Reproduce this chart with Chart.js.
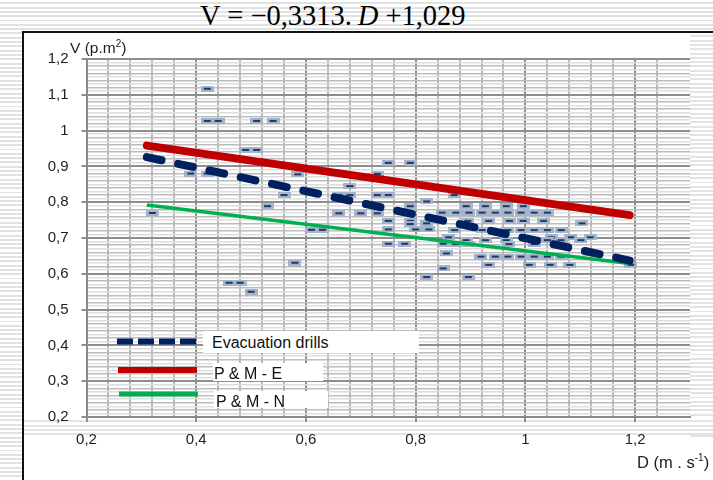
<!DOCTYPE html>
<html><head><meta charset="utf-8">
<script src="https://cdn.jsdelivr.net/npm/chart.js@4.4.0/dist/chart.umd.min.js"></script>
<style>
html,body{margin:0;padding:0;}
body{width:713px;height:480px;position:relative;overflow:hidden;
 background:repeating-linear-gradient(to bottom,#ffffff 0px,#ffffff 2.3px,#e1e1e1 2.3px,#e1e1e1 4.3px);
 font-family:"Liberation Sans",Arial,sans-serif;}
.stripe{position:absolute;background:repeating-linear-gradient(to bottom,#ffffff 0px,#ffffff 2.3px,#e3e3e3 2.3px,#e3e3e3 4.3px);}
#box{position:absolute;left:22px;top:31px;width:700px;height:460px;border-left:2px solid #111;border-top:2px solid #111;background:#fff;}
#title{position:absolute;left:200px;top:0px;font-family:"Liberation Serif","Times New Roman",serif;font-size:28.5px;color:#000;white-space:nowrap;}
canvas{position:absolute;left:0;top:0;}
.lbl{position:absolute;white-space:nowrap;color:#222;}
.lg{position:absolute;background:#fff;color:#111;font-size:16px;white-space:nowrap;line-height:18px;}
</style></head>
<body>
<div id="title">V = &minus;0,3313.&thinsp;<i>D</i> +1,029</div>
<div id="box"></div>
<div class="stripe" style="left:690px;top:33px;width:23px;height:404px;"></div>
<div class="stripe" style="left:24px;top:418px;width:689px;height:17px;"></div>
<div style="position:absolute;left:0;top:0;width:713px;height:480px;"><canvas id="c" width="713" height="480"></canvas></div>
<div class="lbl" style="left:70px;top:38px;font-size:15.5px;">V (p.m<sup style="font-size:10px;">2</sup>)</div>
<div class="lbl" style="left:637px;top:452px;font-size:16.5px;">D (m . s<sup style="font-size:10px;">-1</sup>)</div>
<div class="lg" style="left:203px;top:331px;width:207px;height:22px;padding-left:9px;line-height:23px;">Evacuation drills</div>
<div class="lg" style="left:213px;top:363px;width:109px;height:18px;padding-left:1px;line-height:21px;">P &amp; M - E</div>
<div class="lg" style="left:214px;top:391px;width:112px;height:17px;padding-left:2px;line-height:22px;">P &amp; M - N</div>
<script>
// ---- data ----
const drillD = [0.32,0.39,0.42,0.42,0.42,0.44,0.49,0.51,0.51,0.54,0.53,0.56,0.585,0.61,0.63,0.58,0.46,0.48,0.50,
 0.75,0.79,0.73,0.68,0.66,0.68,0.73,0.75,0.66,0.70,0.73,0.79,0.82,0.75,0.79,0.75,0.79,0.80,0.824,0.82,0.75,0.78,0.85,0.856,0.85,0.82,0.896,0.86,0.87,
 0.848,0.873,0.897,0.921,0.945,0.968,0.992,1.016,1.04,
 0.892,0.927,0.965,0.996,
 0.895,0.933,0.971,0.996,1.033,1.103,
 0.871,0.921,0.968,0.992,1.016,1.04,1.065,
 1.047,1.083,1.118,
 0.892,0.927,0.965,1.04,1.065,1.101,
 0.873,0.896,0.970,1.016,
 0.919,0.945,0.968,0.992,1.016,1.04,1.065,
 0.933,1.007,1.045,1.081,1.192];
const drillV = [0.770,0.880,0.880,1.117,1.027,1.027,0.946,0.946,1.027,1.027,0.789,0.820,0.878,0.723,0.723,0.631,0.575,0.575,0.550,
 0.910,0.910,0.879,0.845,0.820,0.820,0.820,0.820,0.769,0.769,0.769,0.789,0.802,0.748,0.748,0.724,0.739,0.724,0.724,0.741,0.684,0.684,0.684,0.657,0.615,0.591,0.591,0.702,0.820,
 0.771,0.771,0.771,0.771,0.771,0.771,0.771,0.771,0.771,
 0.789,0.789,0.789,0.789,
 0.748,0.748,0.748,0.748,0.748,0.741,
 0.722,0.722,0.722,0.722,0.722,0.722,0.722,
 0.702,0.702,0.702,
 0.694,0.694,0.694,0.694,0.694,0.694,
 0.683,0.683,0.683,0.683,
 0.648,0.648,0.648,0.648,0.648,0.648,0.648,
 0.625,0.625,0.625,0.625,0.625];
const lineD = [0.31, 1.19];
const evacV = [0.926, 0.637];
const pmeV  = [0.958, 0.764];
const pmnV  = [0.792, 0.629];
const xTickLabels = [0.2,0.4,0.6,0.8,1,1.2];
const yTickLabels = [0.2,0.3,0.4,0.5,0.6,0.7,0.8,0.9,1,1.1,1.2];
const legendNames = ['Evacuation drills','P & M - E','P & M - N'];

const pts = (xs, ys) => xs.map((x,i)=>({x:x, y:ys[i]}));
const fmt = v => String(v).replace('.', ',');
const isIn = (arr, v) => arr.some(a => Math.abs(a - v) < 1e-6);

// marker
const mk = document.createElement('canvas');
mk.width = 13; mk.height = 6;
const mctx = mk.getContext('2d');
mctx.fillStyle = '#a4b4ca'; mctx.fillRect(0,0,13,6);
mctx.fillStyle = '#1f3864'; mctx.fillRect(3,2,7,2);

const legendPlugin = {
  id:'legendSamples',
  afterDatasetsDraw(chart){
    const c = chart.ctx;
    c.save();
    c.lineCap = 'butt';
    c.strokeStyle = '#002060'; c.lineWidth = 6; c.setLineDash([16,5]);
    c.beginPath(); c.moveTo(117,341.5); c.lineTo(196,341.5); c.stroke();
    c.setLineDash([]);
    c.strokeStyle = '#c00000'; c.lineWidth = 6;
    c.beginPath(); c.moveTo(118,370); c.lineTo(197,370); c.stroke();
    c.strokeStyle = '#00b050'; c.lineWidth = 5;
    c.beginPath(); c.moveTo(119,394); c.lineTo(198,394); c.stroke();
    c.restore();
  }
};

new Chart(document.getElementById('c'), {
  type:'scatter',
  data:{datasets:[
    {label:legendNames[0], data:pts(lineD, evacV), showLine:true, borderColor:'#002060', borderWidth:8,
     borderDash:[15,17], borderCapStyle:'round', pointRadius:0, order:1},
    {label:legendNames[1], data:pts(lineD, pmeV), showLine:true, borderColor:'#c00000', borderWidth:8,
     borderCapStyle:'round', pointRadius:0, order:2},
    {label:legendNames[2], data:pts(lineD, pmnV), showLine:true, borderColor:'#00b050', borderWidth:3.5,
     pointRadius:0, order:3},
    {label:'data', data:pts(drillD, drillV), showLine:false, pointStyle:mk, pointRadius:6, order:10}
  ]},
  options:{
    responsive:false, animation:false, devicePixelRatio:1,
    layout:{padding:{top:59,right:23,left:0,bottom:0}},
    plugins:{legend:{display:false}, tooltip:{enabled:false}, title:{display:false}},
    scales:{
      x:{type:'linear', min:0.2, max:1.3,
        afterFit(s){ s.height = 63; },
        border:{color:'#8a8a8a', width:2},
        ticks:{stepSize:0.04, autoSkip:false, maxTicksLimit:200, maxRotation:0, minRotation:0, padding:9, color:'#222',
          font:{family:'"Liberation Sans", Arial, sans-serif', size:15},
          callback:(v)=> isIn(xTickLabels, v) ? fmt(Math.round(v*10)/10) : ''},
        grid:{tickLength:5,
          color:(ctx)=>{const v=ctx.tick?ctx.tick.value:0; if(v>1.295) return 'rgba(0,0,0,0)'; return isIn(xTickLabels,v)?'#8e8e8e':'#b8b8b8';},
          lineWidth:2,
          tickColor:(ctx)=>{const v=ctx.tick?ctx.tick.value:0; return isIn(xTickLabels,v)?'#8e8e8e':'rgba(0,0,0,0)';}}
      },
      y:{type:'linear', min:0.2, max:1.2,
        afterFit(s){ s.width = 86.5; },
        border:{color:'#8a8a8a', width:2},
        ticks:{stepSize:0.01, autoSkip:false, maxTicksLimit:200, padding:13, color:'#222',
          font:{family:'"Liberation Sans", Arial, sans-serif', size:15},
          callback:(v)=> isIn(yTickLabels, v) ? fmt(Math.round(v*10)/10) : ''},
        grid:{tickLength:5,
          color:(ctx)=>{const v=ctx.tick?ctx.tick.value:0; const k=Math.round(v*100);
            if(k%10===0) return '#8e8e8e'; if(k%2===0) return '#bcbcbc'; return '#dddddd';},
          lineWidth:(ctx)=>{const v=ctx.tick?ctx.tick.value:0; const k=Math.round(v*100); return k%10===0?2:1.5;},
          tickColor:(ctx)=>{const v=ctx.tick?ctx.tick.value:0; return isIn(yTickLabels,v)?'#8e8e8e':'rgba(0,0,0,0)';}}
      }
    }
  },
  plugins:[legendPlugin]
});
</script>
</body></html>
